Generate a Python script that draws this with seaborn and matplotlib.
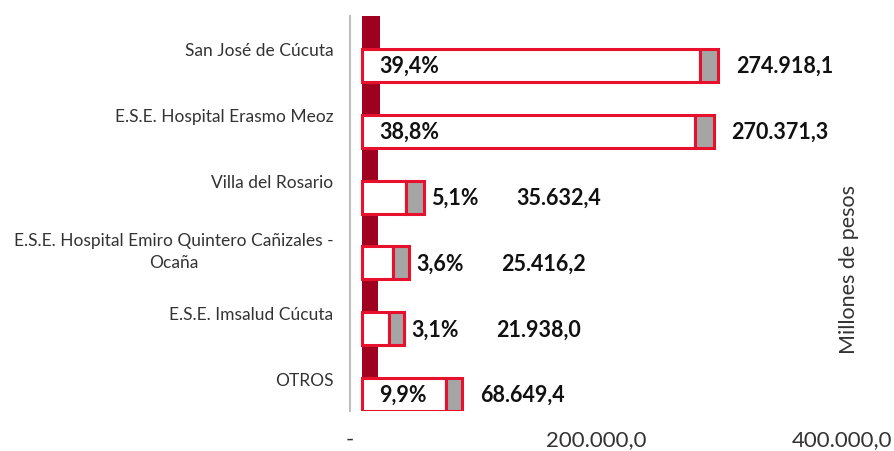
import matplotlib
matplotlib.use("Agg")
import numpy as np
import seaborn as sns
import matplotlib.pyplot as plt

# datos (millones de pesos)
categorias = [
    "San José de Cúcuta",
    "E.S.E. Hospital Erasmo Meoz",
    "Villa del Rosario",
    "E.S.E. Hospital Emiro Quintero Cañizales -\nOcaña",
    "E.S.E. Imsalud Cúcuta",
    "OTROS",
]
valores = [274918.1, 270371.3, 35632.4, 25416.2, 21938.0, 68649.4]
participacion = [39.4, 38.8, 5.1, 3.6, 3.1, 9.9]
serie_gris = [14500, 15500, 14500, 12500, 12000, 12500]
serie_oscura = [15000, 15000, 13000, 13000, 13000, 13000]

ticks_x = [0, 200000, 400000]

ROJO = "#E8112D"
OSCURO = "#A00020"
GRIS = "#A5A5A5"
INICIO = 9750  # las barras arrancan un poco a la derecha del eje


def fmt_es(v):
    return "{:,.1f}".format(v).replace(",", "X").replace(".", ",").replace("X", ".")


def fmt_tick(v):
    return "-" if v == 0 else fmt_es(v)


sns.set_theme(style="white")
plt.rcParams["font.family"] = ["Lato", "DejaVu Sans"]

fig = plt.figure(figsize=(8.94, 4.52), dpi=100)
ax = fig.add_axes([350 / 894, 1 - 412 / 452, (842 - 350) / 894, (412 - 17) / 452])

y = np.arange(len(categorias))
fin = [INICIO + v + g for v, g in zip(valores, serie_gris)]

ax.barh(y - 0.25, serie_oscura, height=0.5, left=INICIO, color=OSCURO, linewidth=0)
ax.barh(y + 0.25, valores, height=0.5, left=INICIO, color="white",
        edgecolor=ROJO, linewidth=2.2)
ax.barh(y + 0.25, serie_gris, height=0.5, left=[INICIO + v for v in valores],
        color=GRIS, edgecolor=ROJO, linewidth=2.2)

for i, (v, p, e) in enumerate(zip(valores, participacion, fin)):
    txt_p = "{:.1f}%".format(p).replace(".", ",")
    if v > 50000:
        xp, xv = INICIO + 13800, e + 14600
    else:
        xp, xv = e + 6000, e + 75000
    ax.text(xp, i + 0.25, txt_p, ha="left", va="center", fontsize=15.5,
            fontweight="bold", color="#111111")
    ax.text(xv, i + 0.25, fmt_es(v), ha="left", va="center", fontsize=15.5,
            fontweight="bold", color="#111111")

ax.set_xlim(0, 400000)
ax.set_ylim(len(categorias) - 0.5, -0.5)
ax.set_xticks(ticks_x)
ax.set_xticklabels([fmt_tick(t) for t in ticks_x], fontsize=16, color="#333333")
ax.set_yticks(y)
ax.set_yticklabels(categorias, fontsize=12.5, color="#333333")
ax.get_yticklabels()[3].set_multialignment("center")
ax.get_yticklabels()[3].set_linespacing(1.5)
ax.tick_params(axis="y", length=0, pad=12)
ax.tick_params(axis="x", length=0, pad=13)

sns.despine(ax=ax, top=True, right=True, bottom=True, left=False)
ax.spines["left"].set_color("#BFBFBF")
ax.spines["left"].set_linewidth(1.5)
ax.grid(False)

fig.text(849 / 894, 1 - 270 / 452, "Millones de pesos", rotation=90,
         ha="center", va="center", fontsize=15.5, color="#333333")

fig.savefig("out.png", dpi=100)
